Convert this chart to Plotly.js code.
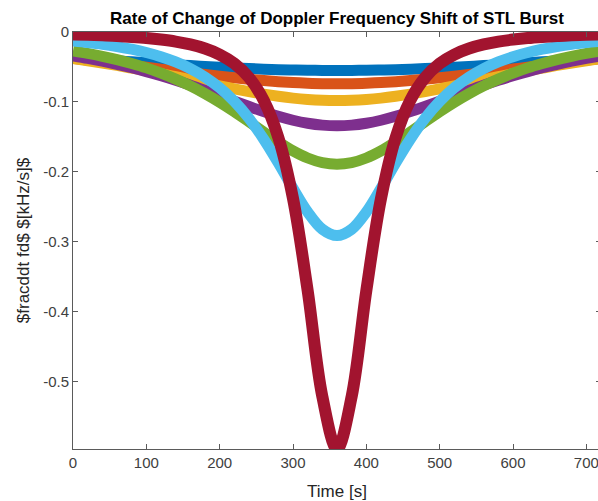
<!DOCTYPE html>
<html>
<head>
<meta charset="utf-8">
<script src="https://cdn.plot.ly/plotly-3.0.1.min.js"></script>
<style>
html, body { margin: 0; padding: 0; background: #fff; overflow: hidden; }
#chart { width: 620px; height: 501px; }
</style>
</head>
<body>
<div id="chart"></div>
<script>
// Time samples [s]
const timeS = [0,20,40,60,80,100,120,140,160,180,200,220,240,260,280,300,320,340,360,380,400,420,440,460,480,500,520,540,560,580,600,620,640,660,680,700,720];

// Rate of change of Doppler shift [kHz/s], one series per curve
const seriesBlue = [-0.0368,-0.0383,-0.0397,-0.0412,-0.0426,-0.0440,-0.0454,-0.0467,-0.0480,-0.0492,-0.0504,-0.0514,-0.0523,-0.0531,-0.0538,-0.0543,-0.0547,-0.0549,-0.0550,-0.0549,-0.0547,-0.0543,-0.0538,-0.0531,-0.0523,-0.0514,-0.0504,-0.0492,-0.0480,-0.0467,-0.0454,-0.0440,-0.0426,-0.0412,-0.0397,-0.0383,-0.0368];
const seriesOrange = [-0.0379,-0.0402,-0.0426,-0.0451,-0.0477,-0.0503,-0.0530,-0.0556,-0.0582,-0.0608,-0.0632,-0.0655,-0.0676,-0.0694,-0.0710,-0.0723,-0.0732,-0.0738,-0.0740,-0.0738,-0.0732,-0.0723,-0.0710,-0.0694,-0.0676,-0.0655,-0.0632,-0.0608,-0.0582,-0.0556,-0.0530,-0.0503,-0.0477,-0.0451,-0.0426,-0.0402,-0.0379];
const seriesYellow = [-0.0379,-0.0410,-0.0443,-0.0478,-0.0516,-0.0555,-0.0596,-0.0639,-0.0683,-0.0726,-0.0770,-0.0812,-0.0852,-0.0888,-0.0919,-0.0945,-0.0964,-0.0976,-0.0980,-0.0976,-0.0964,-0.0945,-0.0919,-0.0888,-0.0852,-0.0812,-0.0770,-0.0726,-0.0683,-0.0639,-0.0596,-0.0555,-0.0516,-0.0478,-0.0443,-0.0410,-0.0379];
const seriesPurple = [-0.0341,-0.0377,-0.0417,-0.0462,-0.0511,-0.0566,-0.0626,-0.0690,-0.0760,-0.0834,-0.0910,-0.0988,-0.1065,-0.1138,-0.1205,-0.1261,-0.1304,-0.1331,-0.1340,-0.1331,-0.1304,-0.1261,-0.1205,-0.1138,-0.1065,-0.0988,-0.0910,-0.0834,-0.0760,-0.0690,-0.0626,-0.0566,-0.0511,-0.0462,-0.0417,-0.0377,-0.0341];
const seriesGreen = [-0.0271,-0.0306,-0.0347,-0.0394,-0.0450,-0.0513,-0.0588,-0.0673,-0.0770,-0.0881,-0.1004,-0.1139,-0.1283,-0.1429,-0.1571,-0.1699,-0.1801,-0.1867,-0.1890,-0.1867,-0.1801,-0.1699,-0.1571,-0.1429,-0.1283,-0.1139,-0.1004,-0.0881,-0.0770,-0.0673,-0.0588,-0.0513,-0.0450,-0.0394,-0.0347,-0.0306,-0.0271];
const seriesCyan = [-0.0130,-0.0151,-0.0176,-0.0208,-0.0246,-0.0293,-0.0353,-0.0428,-0.0523,-0.0644,-0.0798,-0.0992,-0.1235,-0.1531,-0.1871,-0.2234,-0.2573,-0.2819,-0.2910,-0.2819,-0.2573,-0.2234,-0.1871,-0.1531,-0.1235,-0.0992,-0.0798,-0.0644,-0.0523,-0.0428,-0.0353,-0.0293,-0.0246,-0.0208,-0.0176,-0.0151,-0.0130];
const seriesRed = [-0.0034,-0.0040,-0.0048,-0.0057,-0.0070,-0.0086,-0.0108,-0.0137,-0.0178,-0.0236,-0.0322,-0.0450,-0.0651,-0.0974,-0.1507,-0.2380,-0.3695,-0.5210,-0.5960,-0.5210,-0.3695,-0.2380,-0.1507,-0.0974,-0.0651,-0.0450,-0.0322,-0.0236,-0.0178,-0.0137,-0.0108,-0.0086,-0.0070,-0.0057,-0.0048,-0.0040,-0.0034];

const xTickVals = [0,100,200,300,400,500,600,700];
const xTickText = ['0','100','200','300','400','500','600','700'];
const yTickVals = [0,-0.1,-0.2,-0.3,-0.4,-0.5];
const yTickText = ['0','-0.1','-0.2','-0.3','-0.4','-0.5'];

const allSeries = [seriesBlue, seriesOrange, seriesYellow, seriesPurple, seriesGreen, seriesCyan, seriesRed];
const colors = ['#0072BD','#D95319','#EDB120','#7E2F8E','#77AC30','#4DBEEE','#A2142F'];
const widths = [11,11,11,11,11,11,12];

const traces = allSeries.map((ys, i) => ({
  x: timeS, y: ys, type: 'scatter', mode: 'lines',
  line: {color: colors[i], width: widths[i], shape: 'spline', smoothing: 1},
  hoverinfo: 'skip', showlegend: false
}));

const axisCommon = {
  showline: true, linecolor: '#5a5a5a', linewidth: 1, mirror: 'ticks',
  ticks: 'inside', ticklen: 5, tickcolor: '#5a5a5a', tickwidth: 1,
  showgrid: false, zeroline: false,
  tickfont: {family: 'Liberation Sans, Arial, sans-serif', size: 15, color: '#404040'},
  automargin: false
};

const layout = {
  width: 620, height: 501,
  margin: {l: 73, r: 19, t: 32, b: 52},
  paper_bgcolor: '#ffffff', plot_bgcolor: '#ffffff',
  title: {
    text: 'Rate of Change of Doppler Frequency Shift of STL Burst',
    font: {family: 'Liberation Sans, Arial, sans-serif', size: 17, color: '#000000', weight: 'bold'},
    x: 0.5, xref: 'paper', xanchor: 'center',
    y: 1 - 18/501, yref: 'container', yanchor: 'middle'
  },
  xaxis: Object.assign({}, axisCommon, {
    range: [0, 720], tickvals: xTickVals, ticktext: xTickText,
    title: {text: 'Time [s]', font: {family: 'Liberation Sans, Arial, sans-serif', size: 17, color: '#262626'}}
  }),
  yaxis: Object.assign({}, axisCommon, {
    range: [-0.596, 0], tickvals: yTickVals, ticktext: yTickText,
    title: {text: '$fracddt fd$ $[kHz/s]$', font: {family: 'Liberation Sans, Arial, sans-serif', size: 17, color: '#262626'}}
  })
};

Plotly.newPlot('chart', traces, layout, {displayModeBar: false, typesetMath: false, responsive: false});
</script>
</body>
</html>
